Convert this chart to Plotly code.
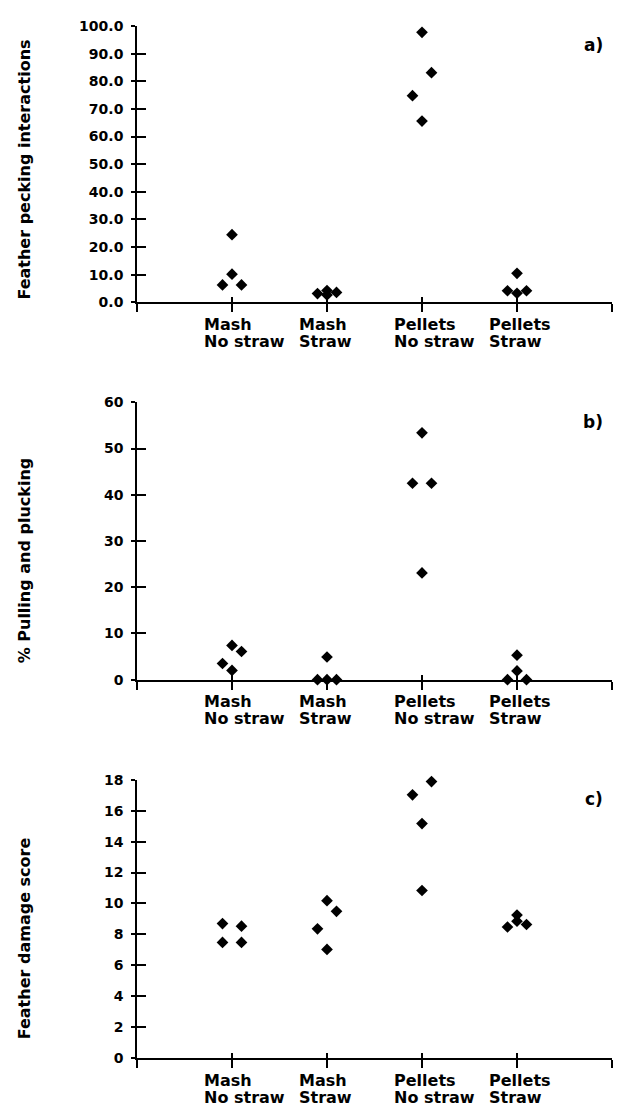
import plotly.graph_objects as go

# ---------------- data ----------------
group_line1 = ["Mash", "Mash", "Pellets", "Pellets"]
group_line2 = ["No straw", "Straw", "No straw", "Straw"]
group_names = ["Mash No straw", "Mash Straw", "Pellets No straw", "Pellets Straw"]

point_group = (["Mash No straw"] * 4 + ["Mash Straw"] * 4 +
               ["Pellets No straw"] * 4 + ["Pellets Straw"] * 4)

# a) Feather pecking interactions
pecking = [24.5, 10.2, 6.3, 6.3,
           3.2, 4.3, 2.7, 3.6,
           97.7, 83.1, 74.8, 65.6,
           10.5, 4.2, 4.2, 3.3]
pecking_jitter = [0, 0, -0.1, 0.1,
                  -0.1, 0, 0, 0.1,
                  0, 0.1, -0.1, 0,
                  0, -0.1, 0.1, 0]

# b) % Pulling and plucking
pulling = [7.4, 6.1, 3.5, 2.0,
           4.9, 0, 0, 0,
           53.4, 42.5, 42.5, 23.1,
           5.3, 1.9, 0, 0]
pulling_jitter = [0, 0.1, -0.1, 0,
                  0, -0.1, 0, 0.1,
                  0, -0.1, 0.1, 0,
                  0, 0, -0.1, 0.1]

# c) Feather damage score
damage = [8.70, 8.53, 7.48, 7.48,
          10.18, 9.49, 8.36, 7.03,
          17.89, 17.03, 15.17, 10.84,
          9.25, 8.85, 8.48, 8.64]
damage_jitter = [-0.1, 0.1, -0.1, 0.1,
                 0, 0.1, -0.1, 0,
                 0.1, -0.1, 0, 0,
                 0, 0, -0.1, 0.1]

pecking_ticks = [0, 10, 20, 30, 40, 50, 60, 70, 80, 90, 100]
pulling_ticks = [0, 10, 20, 30, 40, 50, 60]
damage_ticks = [0, 2, 4, 6, 8, 10, 12, 14, 16, 18]

titles = ["Feather pecking interactions", "% Pulling and plucking", "Feather damage score"]
title_pos = [0.48, 0.43, 0.43]
letters = ["a)", "b)", "c)"]

# ---------------- figure ----------------
FONT = "DejaVu Sans"
panels = [
    (pecking, pecking_jitter, pecking_ticks, ".1f", [0.7322, 1.0]),
    (pulling, pulling_jitter, pulling_ticks, "d", [0.3666, 0.6353]),
    (damage, damage_jitter, damage_ticks, "d", [0.0, 0.2695]),
]

fig = go.Figure()
# page body has an 8px margin, so the figure is sized to fit the window
layout = dict(
    width=617, height=1105,
    margin=dict(l=129, r=13, t=10, b=55),
    paper_bgcolor="white", plot_bgcolor="white",
    showlegend=False,
    annotations=[],
)

xcats = list(range(0, len(group_names) + 2))

for i, (vals, jit, ticks, fmt, dom) in enumerate(panels):
    n = i + 1
    xs = f"x{n}" if n > 1 else "x"
    ys = f"y{n}" if n > 1 else "y"
    xpos = [group_names.index(g) + 1 + j for g, j in zip(point_group, jit)]
    fig.add_trace(go.Scatter(
        x=xpos, y=vals, mode="markers", xaxis=xs, yaxis=ys,
        marker=dict(symbol="diamond", size=9, color="black"),
        cliponaxis=False, hoverinfo="y",
    ))
    # overlay axes to give crossing ticks
    on = n + 3
    fig.add_trace(go.Scatter(x=[], y=[], xaxis=f"x{on}", yaxis=f"y{on}",
                             hoverinfo="skip", showlegend=False))
    ymax = ticks[-1]
    layout[f"xaxis{n if n > 1 else ''}"] = dict(
        domain=[0, 1], anchor=ys, range=[0, 5], tickvals=xcats,
        showticklabels=False, ticks="outside", ticklen=8, tickwidth=1.6,
        tickcolor="black", showline=True, linecolor="black", linewidth=2,
        showgrid=False, zeroline=False, fixedrange=True,
    )
    layout[f"yaxis{n if n > 1 else ''}"] = dict(
        domain=dom, anchor=xs, range=[0, ymax], tickvals=ticks, tickformat=fmt,
        ticks="outside", ticklen=4, tickwidth=1.6, tickcolor="black",
        ticklabelstandoff=5,
        showline=True, linecolor="black", linewidth=1.6,
        showgrid=False, zeroline=False, fixedrange=True,
        tickfont=dict(family=FONT, size=14, color="black", weight="bold"),
    )
    layout[f"xaxis{on}"] = dict(
        overlaying=xs, anchor=f"y{on}", range=[0, 5], tickvals=xcats,
        showticklabels=False, ticks="inside", ticklen=5, tickwidth=1.6,
        tickcolor="black", showline=False, showgrid=False, zeroline=False,
    )
    layout[f"yaxis{on}"] = dict(
        overlaying=ys, anchor=f"x{on}", range=[0, ymax], tickvals=ticks,
        showticklabels=False, ticks="inside", ticklen=9, tickwidth=1.6,
        tickcolor="black", showline=False, showgrid=False, zeroline=False,
    )
    # category labels (left aligned, two lines)
    for k, (l1, l2) in enumerate(zip(group_line1, group_line2)):
        for txt, ysh in ((l1, -22), (l2, -39)):
            layout["annotations"].append(dict(
                text=txt, xref=xs, x=k + 1, yref=f"{ys} domain", y=0,
                xanchor="left", yanchor="middle", xshift=-30, yshift=ysh,
                showarrow=False,
                font=dict(family=FONT, size=16, color="black", weight="bold"),
            ))
    # y axis title
    layout["annotations"].append(dict(
        text=titles[i], xref=f"{xs} domain", x=-0.236, yref=f"{ys} domain",
        y=title_pos[i], xanchor="center", yanchor="middle", textangle=-90,
        showarrow=False,
        font=dict(family=FONT, size=16, color="black", weight="bold"),
    ))
    # panel letter
    layout["annotations"].append(dict(
        text=letters[i], xref=f"{xs} domain", x=0.985, yref=f"{ys} domain", y=0.93,
        xanchor="right", yanchor="middle", showarrow=False,
        font=dict(family=FONT, size=17, color="black", weight="bold"),
    ))

fig.update_layout(**layout)
fig.write_html("out.html")
